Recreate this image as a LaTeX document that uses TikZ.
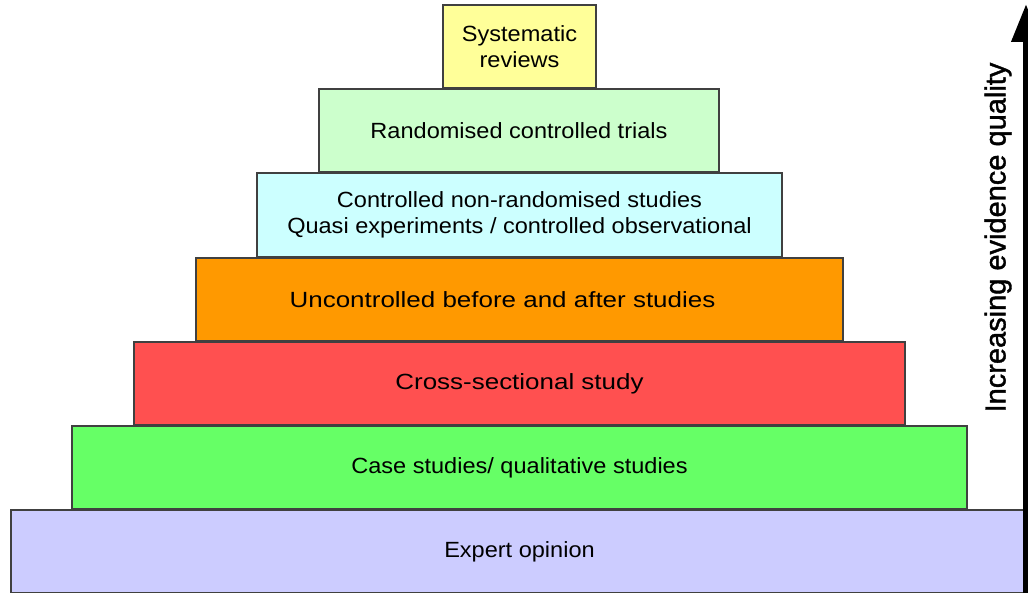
\documentclass[tikz,border=0pt]{standalone}
\usepackage{fontspec}
\setmainfont{Liberation Sans}
\newfontfamily\boxfont[FakeStretch=1.07]{Liberation Sans}
\newfontfamily\wideboxfont[FakeStretch=1.18]{Liberation Sans}
\newfontfamily\sidefont[FakeBold=1.3]{Liberation Sans}
\usetikzlibrary{arrows.meta}
\definecolor{cyellow}{HTML}{FFFF99}
\definecolor{clgreen}{HTML}{CCFFCC}
\definecolor{ccyan}{HTML}{CCFFFF}
\definecolor{corange}{HTML}{FF9900}
\definecolor{cred}{HTML}{FF5050}
\definecolor{cgreen}{HTML}{66FF66}
\definecolor{clav}{HTML}{CCCCFF}
\definecolor{cborder}{HTML}{404040}
\tikzset{
  tier/.style={draw=cborder, line width=1.3pt, inner sep=0pt, align=center,
    font=\boxfont\fontsize{22}{26.5}\selectfont, text=black},
  widetier/.style={tier, font=\wideboxfont\fontsize{22}{26.5}\selectfont},
}
\begin{document}
\begin{tikzpicture}[x=1pt,y=-1pt]
\useasboundingbox (0,0) rectangle (1028,593);
\node[tier, fill=clav, minimum width=1017pt, minimum height=83pt] (expert) at (519.5,551.5) {Expert opinion};
\node[tier, fill=cgreen, minimum width=895pt, minimum height=83pt] (case) at (519.5,467.5) {Case studies/ qualitative studies};
\node[widetier, fill=cred, minimum width=771pt, minimum height=83pt] (cross) at (519.5,383.5) {Cross-sectional study};
\node[widetier, fill=corange, minimum width=647pt, minimum height=83pt] (unc) at (519.5,299.5) {Uncontrolled before and after studies\hspace*{34pt}};
\node[tier, fill=ccyan, minimum width=525pt, minimum height=84pt] (cnr) at (519.5,215) {Controlled non-randomised studies\\Quasi experiments / controlled observational};
\node[tier, fill=clgreen, minimum width=400pt, minimum height=83pt] (rct) at (519,130.5) {Randomised controlled trials};
\node[tier, fill=cyellow, minimum width=153pt, minimum height=83pt] (sr) at (519.5,46.5) {Systematic\\reviews};
\coordinate (abot) at (1026,593);
\coordinate (atop) at (1026,4);
\draw[line width=7pt, -{Triangle[width=28pt,length=38pt]}] (abot) -- (atop);
\node[rotate=90, font=\sidefont\fontsize{29}{32}\selectfont, inner sep=0pt] (qual) at (998,237.5) {Increasing evidence quality};
\end{tikzpicture}
\end{document}
